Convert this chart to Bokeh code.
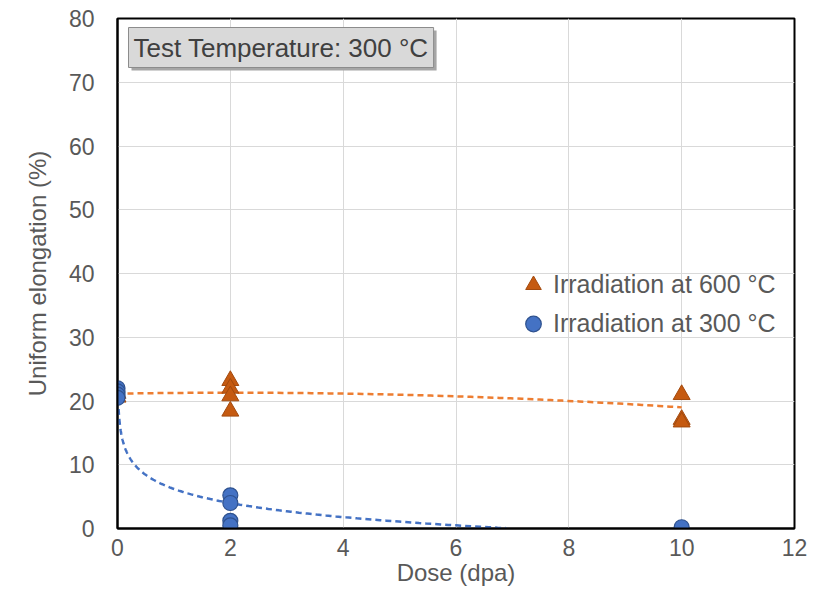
import numpy as np
from bokeh.plotting import figure
from bokeh.models import Label, Legend, LegendItem, Range1d, FixedTicker
from bokeh.embed import file_html
from bokeh.resources import INLINE

# ---- data ----
dose_600 = [0, 0, 2, 2, 2, 2, 10, 10, 10]
ue_600 = [20.6, 21.2, 23.2, 22.0, 20.8, 18.4, 21.0, 17.1, 16.7]
dose_300 = [0, 0, 0, 0, 2, 2, 2, 2, 10]
ue_300 = [22.0, 21.5, 21.0, 20.5, 5.2, 4.0, 1.2, 0.5, 0.2]

# trend line coefficients
poly_600 = [-0.03625, 0.1475, 21.15]   # quadratic, x from 0 to 10
log_300 = [-3.19, 6.21]                # y = a*ln(x) + b

x_ticks = [0, 2, 4, 6, 8, 10, 12]
y_ticks = [0, 10, 20, 30, 40, 50, 60, 70, 80]

FONT = "Liberation Sans"
TXT = "#595959"

p = figure(width=817, height=591, output_backend="svg", toolbar_location=None,
           x_range=Range1d(0, 12), y_range=Range1d(0, 80),
           min_border_left=117, min_border_right=23, min_border_top=18, min_border_bottom=63)

p.outline_line_color = "black"
p.outline_line_width = 2
p.background_fill_color = "white"
p.border_fill_color = "white"

p.xgrid.grid_line_color = "#D9D9D9"
p.ygrid.grid_line_color = "#D9D9D9"
p.xaxis.ticker = FixedTicker(ticks=x_ticks)
p.yaxis.ticker = FixedTicker(ticks=y_ticks)
for ax in (p.xaxis, p.yaxis):
    ax.major_tick_line_color = None
    ax.minor_tick_line_color = None
    ax.major_tick_out = 0
    ax.major_tick_in = 0
    ax.minor_tick_out = 0
    ax.axis_line_color = "black"
    ax.axis_line_width = 2
    ax.major_label_text_font = FONT
    ax.major_label_text_font_size = "23px"
    ax.major_label_text_color = TXT
    ax.axis_label_text_font = FONT
    ax.axis_label_text_font_size = "24px"
    ax.axis_label_text_color = TXT
    ax.axis_label_text_font_style = "normal"
p.xaxis.axis_label = "Dose (dpa)"
p.yaxis.axis_label = "Uniform elongation (%)"
p.xaxis.major_label_standoff = 10
p.yaxis.major_label_standoff = 23
p.xaxis.axis_label_standoff = 0
p.yaxis.axis_label_standoff = 15

# trend lines
xo = np.linspace(0, 10, 100)
yo = np.polyval(poly_600, xo)
p.line(xo, yo, line_color="#ED7D31", line_width=2.5, line_dash="6 4")

xb = np.geomspace(0.012, 12, 300)
yb = log_300[0] * np.log(xb) + log_300[1]
mask = yb >= 0
p.line(xb[mask], yb[mask], line_color="#4472C4", line_width=2.5, line_dash="6 4")

# markers
r600 = p.scatter(dose_600, ue_600, marker="triangle", size=17,
                 fill_color="#C55A11", line_color="#A34A0E", line_width=1)
r300 = p.scatter(dose_300, ue_300, marker="circle", size=15,
                 fill_color="#4472C4", line_color="#2F528F", line_width=1.2)

legend = Legend(items=[LegendItem(label="Irradiation at 600 °C", renderers=[r600]),
                       LegendItem(label="Irradiation at 300 °C", renderers=[r300])],
                location=(396, 185), border_line_color=None, background_fill_alpha=0,
                label_text_font=FONT, label_text_font_size="25px", label_text_color=TXT,
                glyph_width=40, glyph_height=39, spacing=0, padding=0, margin=0,
                label_standoff=-5)
p.add_layout(legend, "center")

# title box with shadow
shadow = Label(x=14, y=458, x_units="screen", y_units="screen",
               text="Test Temperature: 300 °C", text_font=FONT, text_font_size="26px",
               text_color="#A6A6A6", background_fill_color="#A6A6A6",
               padding=5)
box = Label(x=11, y=461, x_units="screen", y_units="screen",
            text="Test Temperature: 300 °C", text_font=FONT, text_font_size="26px",
            text_color="#404040", background_fill_color="#D9D9D9",
            border_line_color="#8C8C8C", border_line_width=1, padding=5)
p.add_layout(shadow)
p.add_layout(box)

open("out.html", "w").write(file_html(p, INLINE))
